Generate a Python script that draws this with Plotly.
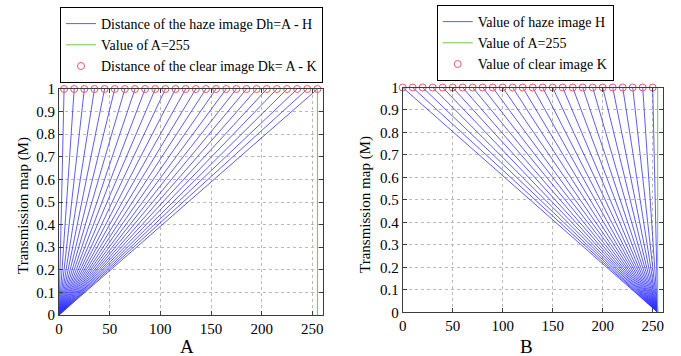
import plotly.graph_objects as go

# ---- data ----
A_value = 255
clear_K = [0, 10, 20, 30, 40, 50, 60, 70, 80, 90, 100, 110, 120, 130, 140, 150,
           160, 170, 180, 190, 200, 210, 220, 230, 240, 250]
dist_Dk = [A_value - k for k in clear_K]          # 255, 245, ..., 5
t_start = 0.0
t_end = 1.0
x_ticks = [0, 50, 100, 150, 200, 250]
y_ticks = [0, 0.1, 0.2, 0.3, 0.4, 0.5, 0.6, 0.7, 0.8, 0.9, 1]
y_tick_text = ["0", "0.1", "0.2", "0.3", "0.4", "0.5", "0.6", "0.7", "0.8", "0.9", "1"]

W, H = 681, 356
BLUE = "rgb(50,50,255)"
GREEN = "rgb(110,200,70)"
RED = "rgb(240,85,95)"
FONT = "Times New Roman, Liberation Serif, serif"

fig = go.Figure()

# ---- left panel: Dh = A - H vs t ----
lx, ly = [], []
for d in dist_Dk:
    lx += [0, d, None]
    ly += [t_start, t_end, None]
fig.add_trace(go.Scatter(x=lx, y=ly, mode="lines", line=dict(color=BLUE, width=0.8),
                         name="Distance of the haze image Dh=A - H",
                         xaxis="x", yaxis="y", legend="legend"))
fig.add_trace(go.Scatter(x=[A_value, A_value], y=[t_start, t_end], mode="lines",
                         line=dict(color=GREEN, width=1),
                         name="Value of A=255", xaxis="x", yaxis="y", legend="legend"))
fig.add_trace(go.Scatter(x=dist_Dk, y=[t_end] * len(dist_Dk), mode="markers",
                         marker=dict(symbol="circle-open", size=7, color=RED, line=dict(width=1)),
                         cliponaxis=False,
                         name="Distance of the clear image Dk= A - K", xaxis="x", yaxis="y",
                         legend="legend"))

# ---- right panel: H vs t ----
rx, ry = [], []
for k in clear_K:
    rx += [k, A_value, None]
    ry += [t_end, t_start, None]
fig.add_trace(go.Scatter(x=rx, y=ry, mode="lines", line=dict(color=BLUE, width=0.8),
                         name="Value of haze image H",
                         xaxis="x2", yaxis="y2", legend="legend2"))
fig.add_trace(go.Scatter(x=[A_value, A_value], y=[t_start, t_end], mode="lines",
                         line=dict(color=GREEN, width=1),
                         name="Value of A=255", xaxis="x2", yaxis="y2", legend="legend2"))
fig.add_trace(go.Scatter(x=clear_K, y=[t_end] * len(clear_K), mode="markers",
                         marker=dict(symbol="circle-open", size=7, color=RED, line=dict(width=1)),
                         cliponaxis=False,
                         name="Value of clear image K", xaxis="x2", yaxis="y2",
                         legend="legend2"))

axis_common = dict(
    range=[0, 260], tickvals=x_ticks, showgrid=True, gridcolor="rgb(185,185,185)",
    griddash="dot", gridwidth=1, zeroline=False, showline=True, linecolor="rgb(60,60,60)",
    linewidth=1, mirror="allticks", ticks="inside", ticklen=4, tickcolor="rgb(60,60,60)",
    tickfont=dict(family=FONT, size=15, color="black"), automargin=False,
)
yaxis_common = dict(
    range=[0, 1], tickvals=y_ticks, ticktext=y_tick_text, showgrid=True,
    gridcolor="rgb(185,185,185)", griddash="dot", gridwidth=1, zeroline=False,
    showline=True, linecolor="rgb(60,60,60)", linewidth=1, mirror="allticks",
    ticks="inside", ticklen=4, tickcolor="rgb(60,60,60)",
    tickfont=dict(family=FONT, size=15, color="black"), automargin=False,
)

legend_common = dict(xanchor="left", yanchor="top", bgcolor="white", bordercolor="black",
                     borderwidth=1, font=dict(family=FONT, size=14, color="black"),
                     itemwidth=30)

fig.update_layout(
    width=W, height=H, margin=dict(l=0, r=0, t=0, b=0, autoexpand=False),
    paper_bgcolor="white", plot_bgcolor="white",
    xaxis=dict(domain=[59 / W, 322.5 / W], anchor="y", **axis_common),
    yaxis=dict(domain=[(H - 315) / H, (H - 89) / H], anchor="x", **yaxis_common),
    xaxis2=dict(domain=[402.7 / W, 662.7 / W], anchor="y2", **axis_common),
    yaxis2=dict(domain=[(H - 312.3) / H, (H - 87.5) / H], anchor="x2", **yaxis_common),
    legend=dict(x=60 / W, y=1 - 7 / H, **legend_common),
    legend2=dict(x=436.7 / W, y=1 - 5 / H, **legend_common),
    showlegend=True,
    annotations=[
        dict(text="A", x=186.7 / W, y=1 - 346 / H, xref="paper", yref="paper",
             xanchor="center", yanchor="middle", showarrow=False,
             font=dict(family=FONT, size=19, color="black")),
        dict(text="B", x=526.7 / W, y=1 - 346 / H, xref="paper", yref="paper",
             xanchor="center", yanchor="middle", showarrow=False,
             font=dict(family=FONT, size=19, color="black")),
        dict(text="Transmission map (M)", x=23 / W, y=1 - 206 / H, xref="paper",
             yref="paper", xanchor="center", yanchor="middle", showarrow=False,
             textangle=-90, font=dict(family=FONT, size=15, color="black")),
        dict(text="Transmission map (M)", x=366 / W, y=1 - 204 / H, xref="paper",
             yref="paper", xanchor="center", yanchor="middle", showarrow=False,
             textangle=-90, font=dict(family=FONT, size=15, color="black")),
    ],
)

fig.write_html("out.html")
